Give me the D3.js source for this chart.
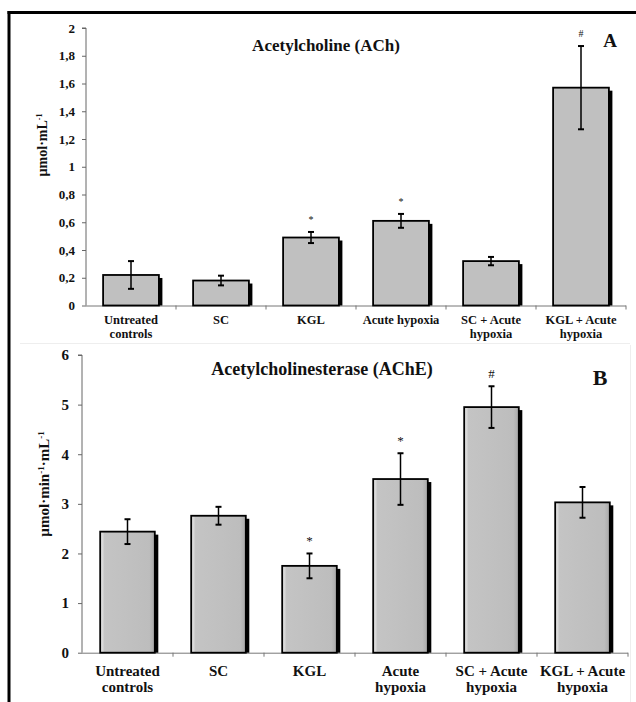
<!DOCTYPE html>
<html>
<head>
<meta charset="utf-8">
<script src="https://cdn.jsdelivr.net/npm/d3@7"></script>
<style>
  html, body { margin: 0; padding: 0; background: #fff; }
  svg { display: block; }
  text { font-family: "Liberation Serif", "DejaVu Serif", serif; font-weight: bold; fill: #111; }
</style>
</head>
<body>
<svg id="fig" width="636" height="702"></svg>
<script>
// Treatment groups (line breaks mark two-line axis labels)
const groupsA = ["Untreated\ncontrols", "SC", "KGL", "Acute hypoxia", "SC + Acute\nhypoxia", "KGL + Acute\nhypoxia"];
const groupsB = ["Untreated\ncontrols", "SC", "KGL", "Acute\nhypoxia", "SC + Acute\nhypoxia", "KGL + Acute\nhypoxia"];

// Panel A: acetylcholine, µmol·mL⁻¹
const achMean = [0.22, 0.18, 0.49, 0.61, 0.32, 1.57];
const achErr  = [0.10, 0.035, 0.04, 0.05, 0.03, 0.30];
const achMark = ["", "", "*", "*", "", "#"];
const achTicks = [0, 0.2, 0.4, 0.6, 0.8, 1, 1.2, 1.4, 1.6, 1.8, 2];

// Panel B: acetylcholinesterase, µmol·min⁻¹·mL⁻¹
const acheMean = [2.44, 2.76, 1.75, 3.50, 4.95, 3.03];
const acheErr  = [0.25, 0.18, 0.25, 0.52, 0.42, 0.31];
const acheMark = ["", "", "*", "*", "#", ""];
const acheTicks = [0, 1, 2, 3, 4, 5, 6];

const svg = d3.select("#fig");
const defs = svg.append("defs");

// Bevelled fill for panel B bars
const gradH = defs.append("linearGradient").attr("id", "bevelH").attr("x1", 0).attr("x2", 1).attr("y1", 0).attr("y2", 0);
gradH.append("stop").attr("offset", "0").attr("stop-color", "#f2f2f2");
gradH.append("stop").attr("offset", "0.08").attr("stop-color", "#c4c4c4");
gradH.append("stop").attr("offset", "0.9").attr("stop-color", "#bdbdbd");
gradH.append("stop").attr("offset", "1").attr("stop-color", "#a8a8a8");

// Outer frame (top and left edges)
svg.append("line").attr("x1", 7.5).attr("x2", 636).attr("y1", 12.5).attr("y2", 12.5)
  .attr("stroke", "#000").attr("stroke-width", 3);
svg.append("line").attr("x1", 9).attr("x2", 9).attr("y1", 11).attr("y2", 702)
  .attr("stroke", "#000").attr("stroke-width", 3);
// faint divider between the panels and right edge
svg.append("line").attr("x1", 20).attr("x2", 630).attr("y1", 343.5).attr("y2", 343.5)
  .attr("stroke", "#eee").attr("stroke-width", 1);
svg.append("line").attr("x1", 630.5).attr("x2", 630.5).attr("y1", 345).attr("y2", 702)
  .attr("stroke", "#eee").attr("stroke-width", 1);

function panel(cfg) {
  const g = svg.append("g");
  const x = d3.scaleBand().domain(d3.range(cfg.groups.length))
    .range([cfg.x0, cfg.x1]).paddingInner(cfg.pad).paddingOuter(cfg.pad / 2);
  const y = d3.scaleLinear().domain([cfg.ticks[0], cfg.ticks[cfg.ticks.length - 1]]).range([cfg.y0, cfg.y1]);

  // y axis
  const ya = g.append("g").attr("transform", `translate(${cfg.x0},0)`)
    .call(d3.axisLeft(y).tickValues(cfg.ticks).tickSize(4).tickPadding(cfg.tickPad)
      .tickFormat(d => String(d).replace(".", ",")));
  ya.select(".domain").attr("stroke", "#666").attr("stroke-width", 1).attr("d", `M-4,${cfg.y1}H0V${cfg.y0}`);
  ya.selectAll(".tick line").attr("stroke", "#666");
  ya.selectAll(".tick text").style("font-size", cfg.tickFont + "px")
    .style("font-family", '"Liberation Serif", serif').style("font-weight", "bold").attr("fill", "#222");

  // x axis with ticks at category boundaries
  g.append("line").attr("x1", cfg.x0).attr("x2", cfg.x1).attr("y1", cfg.y0 + 0.5).attr("y2", cfg.y0 + 0.5)
    .attr("stroke", "#777").attr("stroke-width", 1);
  const step = x.step();
  g.selectAll(".xt").data(d3.range(1, cfg.groups.length + 1)).join("line")
    .attr("x1", i => cfg.x0 + i * step).attr("x2", i => cfg.x0 + i * step)
    .attr("y1", cfg.y0).attr("y2", cfg.y0 + 4).attr("stroke", "#777");

  const data = cfg.mean.map((m, i) => ({ i, m, e: cfg.err[i], s: cfg.mark[i] }));

  // shadow
  g.selectAll(".sh").data(data).join("rect")
    .attr("x", d => x(d.i) + 3.5).attr("width", x.bandwidth())
    .attr("y", d => y(d.m) + 3).attr("height", d => y(0) - y(d.m) - 3)
    .attr("fill", "#000");
  // bars
  g.selectAll(".bar").data(data).join("rect")
    .attr("x", d => x(d.i)).attr("width", x.bandwidth())
    .attr("y", d => y(d.m)).attr("height", d => y(0) - y(d.m))
    .attr("fill", cfg.fill).attr("stroke", "#000").attr("stroke-width", 1.8);

  // error bars
  const eb = g.selectAll(".eb").data(data).join("g")
    .attr("transform", d => `translate(${x(d.i) + x.bandwidth() / 2},0)`);
  eb.append("line").attr("y1", d => y(d.m + d.e)).attr("y2", d => y(d.m - d.e))
    .attr("stroke", "#000").attr("stroke-width", 1.5);
  eb.append("line").attr("x1", -3).attr("x2", 3).attr("y1", d => y(d.m + d.e)).attr("y2", d => y(d.m + d.e))
    .attr("stroke", "#000").attr("stroke-width", 2);
  eb.append("line").attr("x1", -3).attr("x2", 3).attr("y1", d => y(d.m - d.e)).attr("y2", d => y(d.m - d.e))
    .attr("stroke", "#000").attr("stroke-width", 2);
  // significance marks
  eb.append("text").attr("text-anchor", "middle")
    .attr("y", d => y(d.m + d.e) - cfg.markGap)
    .style("font-size", cfg.markFont + "px").style("font-weight", "normal").attr("fill", "#333")
    .text(d => d.s);

  // category labels
  g.selectAll(".xl").data(cfg.groups).join("text")
    .attr("text-anchor", "middle")
    .attr("transform", (d, i) => `translate(${x(i) + x.bandwidth() / 2},${cfg.labelY})`)
    .style("font-size", cfg.labelFont + "px")
    .each(function (d) {
      d.split("\n").forEach((line, k) => {
        d3.select(this).append("tspan").attr("x", 0).attr("y", k * cfg.lineH).text(line);
      });
    });

  // y axis title
  g.append("text").attr("text-anchor", "middle")
    .attr("transform", `translate(${cfg.yLabX},${cfg.yLabY}) rotate(-90)`)
    .style("font-size", cfg.yLabFont + "px")
    .html(cfg.yLabel);

  // panel title and letter
  g.append("text").attr("x", cfg.titleX).attr("y", cfg.titleY).attr("text-anchor", "middle")
    .style("font-size", cfg.titleFont + "px").text(cfg.title);
  g.append("text").attr("x", cfg.letterX).attr("y", cfg.letterY).attr("text-anchor", "middle")
    .style("font-size", cfg.letterFont + "px").text(cfg.letter);
}

panel({
  groups: groupsA, mean: achMean, err: achErr, mark: achMark, ticks: achTicks,
  x0: 86, x1: 626, y0: 305.5, y1: 28, pad: 0.38, fill: "#c0c0c0",
  tickFont: 13, tickPad: 7, markFont: 10, markGap: 9,
  labelY: 324, lineH: 14, labelFont: 12.5,
  yLabX: 47, yLabY: 145, yLabFont: 14,
  yLabel: 'µmol·mL<tspan dy="-5" font-size="8">-1</tspan>',
  title: "Acetylcholine (ACh)", titleX: 326, titleY: 51, titleFont: 17,
  letter: "A", letterX: 610, letterY: 47, letterFont: 19
});

panel({
  groups: groupsB, mean: acheMean, err: acheErr, mark: acheMark, ticks: acheTicks,
  x0: 82, x1: 628, y0: 652.7, y1: 355, pad: 0.4, fill: "url(#bevelH)",
  tickFont: 15, tickPad: 9, markFont: 13, markGap: 8,
  labelY: 676, lineH: 16, labelFont: 15,
  yLabX: 49, yLabY: 484, yLabFont: 15,
  yLabel: 'µmol·min<tspan dy="-5" font-size="9">-1</tspan><tspan dy="5">·mL</tspan><tspan dy="-5" font-size="9">-1</tspan>',
  title: "Acetylcholinesterase (AChE)", titleX: 322, titleY: 375, titleFont: 18,
  letter: "B", letterX: 600, letterY: 385, letterFont: 22
});
</script>
</body>
</html>
